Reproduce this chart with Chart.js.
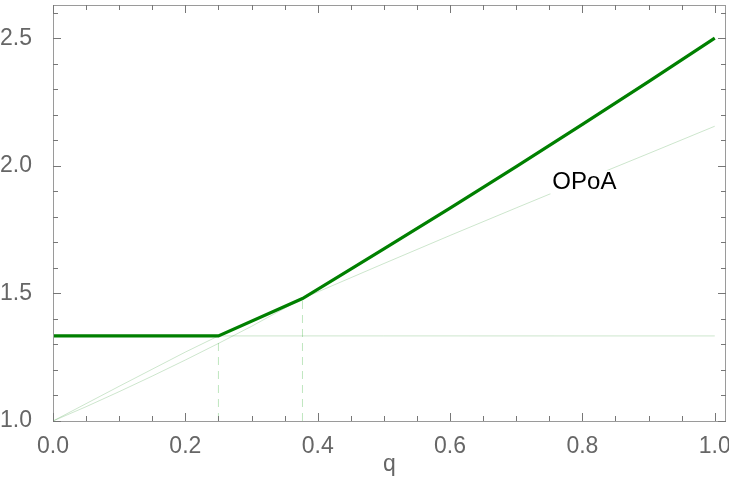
<!DOCTYPE html>
<html lang="en">
<head>
    <meta charset="UTF-8">
    <title>OPoA</title>
    <script src="https://cdn.jsdelivr.net/npm/chart.js"></script>
    <style>
        html, body { margin: 0; padding: 0; background: #fff; }
        #wrap { width: 729px; height: 499px; }
    </style>
</head>
<body>
    <div id="wrap"><canvas id="opoaChart"></canvas></div>

    <script>
        // thick curve: max of the three thin ones
        const opoaQ = [0, 0.25, 0.377, 0.45, 0.5, 0.6, 0.7, 0.8, 0.9, 1.0];
        const opoaV = [1.3333, 1.3333, 1.48, 1.595, 1.674, 1.834, 1.997, 2.162, 2.330, 2.50];

        // thin concave curve
        const upperQ = [0, 0.1, 0.2, 0.25, 0.3, 0.377, 0.5, 0.6, 0.7, 0.8, 0.9, 1.0];
        const upperV = [1, 1.136, 1.27, 1.3333, 1.393, 1.48, 1.617, 1.727, 1.835, 1.942, 2.048, 2.155];

        // thin convex curve (below the thick one after 0.377)
        const lowerQ = [0, 0.05, 0.1, 0.15, 0.2, 0.25, 0.3, 0.377, 0.45, 0.5, 0.6, 0.7, 0.8, 0.9, 1.0];
        const lowerV = [1, 1.056, 1.115, 1.176, 1.239, 1.304, 1.371, 1.48, 1.595, 1.674, 1.834, 1.997, 2.162, 2.330, 2.50];

        const flatQ = [0, 1.0];
        const flatV = [1.3333, 1.3333];

        const kinkQ = [0.25, 0.377];
        const kinkV = [1.3333, 1.48];

        const xMajor = [0, 0.2, 0.4, 0.6, 0.8, 1.0];
        const yMajor = [1.0, 1.5, 2.0, 2.5];

        const labelText = 'OPoA';
        const labelAt = { x: 0.803, y: 1.935 };

        const pts = (qs, vs) => qs.map((q, i) => ({ x: q, y: vs[i] }));

        const thin = 'rgba(0,128,0,0.2)';
        const datasets = [
            { data: pts(opoaQ, opoaV), borderColor: '#008000', borderWidth: 3.2, order: 0 },
            { data: pts(upperQ, upperV), borderColor: thin, borderWidth: 1, order: 2 },
            { data: pts(lowerQ, lowerV), borderColor: thin, borderWidth: 1, order: 2 },
            { data: pts(flatQ, flatV), borderColor: thin, borderWidth: 1, order: 2 }
        ];
        kinkQ.forEach((q, i) => {
            datasets.push({
                data: [{ x: q, y: 1 }, { x: q, y: kinkV[i] }],
                borderColor: 'rgba(0,160,0,0.25)', borderWidth: 1, borderDash: [8, 6], order: 3
            });
        });
        datasets.forEach(d => { d.showLine = true; d.pointRadius = 0; d.fill = false; d.tension = 0; });

        const frame = {
            id: 'frame',
            afterDraw(chart) {
                const { ctx, chartArea: a, scales: { x, y } } = chart;
                ctx.save();
                ctx.strokeStyle = '#9a9a9a';
                ctx.lineWidth = 1;
                ctx.strokeRect(a.left + 0.5, a.top + 0.5, a.right - a.left - 1, a.bottom - a.top);
                ctx.strokeStyle = '#777';
                ctx.beginPath();
                for (let i = 0; i <= 20; i++) {
                    const v = i * 0.05;
                    const px = Math.round(x.getPixelForValue(v)) + 0.5;
                    const len = (i % 4 === 0) ? 8 : 5;
                    ctx.moveTo(px, a.bottom); ctx.lineTo(px, a.bottom - len);
                    ctx.moveTo(px, a.top); ctx.lineTo(px, a.top + len);
                }
                for (let i = 0; i <= 16; i++) {
                    const v = 1 + i * 0.1;
                    const py = Math.round(y.getPixelForValue(v)) + 0.5;
                    const len = (i % 5 === 0) ? 8 : 5;
                    ctx.moveTo(a.left, py); ctx.lineTo(a.left + len, py);
                    ctx.moveTo(a.right, py); ctx.lineTo(a.right - len, py);
                }
                ctx.stroke();

                // callout label
                const lx = x.getPixelForValue(labelAt.x);
                const ly = y.getPixelForValue(labelAt.y);
                ctx.font = '24px "Liberation Sans", Arial, sans-serif';
                const w = ctx.measureText(labelText).width;
                ctx.fillStyle = '#fff';
                ctx.fillRect(lx - w / 2 - 2, ly - 12, w + 4, 24);
                ctx.fillStyle = '#000';
                ctx.textAlign = 'center';
                ctx.textBaseline = 'middle';
                ctx.fillText(labelText, lx, ly);
                ctx.restore();
            }
        };

        const tickFont = { family: '"Liberation Sans", Arial, sans-serif', size: 23 };

        new Chart(document.getElementById('opoaChart'), {
            type: 'scatter',
            data: { datasets: datasets },
            options: {
                responsive: true,
                maintainAspectRatio: false,
                animation: false,
                layout: { padding: { top: 5, right: 3, left: 0, bottom: 0 } },
                plugins: { legend: { display: false }, tooltip: { enabled: false } },
                scales: {
                    x: {
                        type: 'linear', min: 0, max: 1.017,
                        grid: { display: false }, border: { display: false },
                        afterBuildTicks: s => { s.ticks = xMajor.map(v => ({ value: v })); },
                        afterFit: s => { s.height = 78; s.paddingLeft = 0; s.paddingRight = 0; },
                        ticks: {
                            color: '#666', font: tickFont, padding: 4, maxRotation: 0, autoSkip: false,
                            callback: v => v.toFixed(1)
                        },
                        title: {
                            display: true, text: 'q', color: '#666', font: tickFont,
                            padding: { top: 0, bottom: 21 }
                        }
                    },
                    y: {
                        type: 'linear', min: 1, max: 2.63,
                        grid: { display: false }, border: { display: false },
                        afterBuildTicks: s => { s.ticks = yMajor.map(v => ({ value: v })); },
                        afterFit: s => { s.width = 53; s.paddingTop = 0; s.paddingBottom = 0; },
                        ticks: {
                            color: '#666', font: tickFont, padding: 13,
                            callback: v => v.toFixed(1)
                        }
                    }
                }
            },
            plugins: [frame]
        });
    </script>
</body>
</html>
